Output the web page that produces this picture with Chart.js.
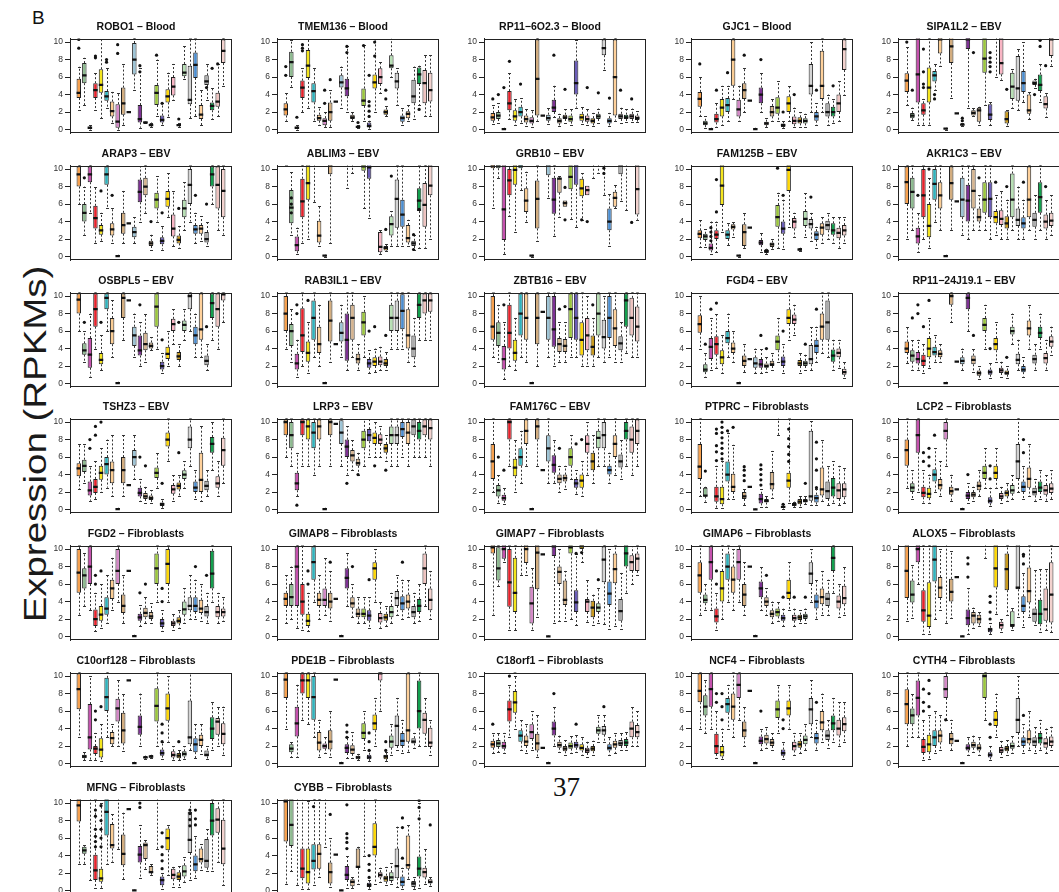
<!DOCTYPE html>
<html>
<head>
<meta charset="utf-8">
<script src="https://cdn.jsdelivr.net/npm/chart.js@4.4.1/dist/chart.umd.min.js"></script>
<style>
  body { margin: 0; background: #fff; width: 1059px; height: 892px; overflow: hidden; position: relative;
         font-family: "Liberation Sans", Arial, sans-serif; }
  .panel { position: absolute; }
  #ylab { position: absolute; left: 36px; top: 444px; transform: translate(-50%, -50%) rotate(-90deg) scaleX(1.24);
          font-size: 31px; white-space: nowrap; color: #1a1a1a; }
  #tag { position: absolute; left: 32px; top: 7px; font-size: 19px; color: #111; }
  #page { position: absolute; left: 553px; top: 772px; font-family: "Liberation Serif", serif; font-size: 27px; color: #111; }
</style>
</head>
<body>
<div id="tag">B</div>
<div id="ylab">Expression (RPKMs)</div>
<div id="page">37</div>
<script>
// 27 tissues, same order in every panel
const tissueColors = ['#F7A14F','#8DBB8F','#C552AE','#E8202A','#F5E61E','#2EB4BE','#FBCD94','#D486C6','#D3AD7F',
  '#C9A57A','#9CC4D6','#7E3294','#D6B48E','#D7B892','#9BC83A','#6B5DB8','#FFD700','#F9B5C4','#C99A1F',
  '#B6E0B3','#D4D4D4','#4A8ED2','#FFD19B','#AAAAAA','#13A04E','#EFC2BF','#F3D2CE'];
const yTicks = [0, 2, 4, 6, 8, 10];

// box stats per tissue: [lower whisker, Q1, median, Q3, upper whisker]; outliers: [tissue, value]
const robo1 = [[2.2,3.6,4.2,5.8,7.2],[2.8,5.3,6.2,7.6,8.2],[0,0.1,0.2,0.3,0.5],[2.2,3.6,4.5,5.3,6.5],[1.3,4.2,5.1,6.9,10.3],
  [2.5,3.3,3.8,4.4,7],[0.7,1.5,2.1,3.2,4.3],[0,0.2,0.9,2.9,4.2],[0.5,1.7,3,4.8,7.5],[2,2,2,2,2],[4.5,6.3,8,9.9,10.5],
  [0.2,0.8,1.2,2.8,7],[0.7,0.75,0.8,0.85,0.9],[0.3,0.4,0.5,0.7,0.8],[1.5,2.8,4.2,5.1,8],[0.5,0.8,1.1,1.6,3],[1.4,3.1,3.8,4.6,6.5],
  [3.4,3.9,4.9,6,7.5],[0.3,0.4,0.5,0.6,0.7],[5.8,6.1,6.5,7.5,9.5],[1.3,2.9,3.4,7.3,10.5],[1.5,5.9,7.4,8.8,10.5],[0.5,1.2,1.7,2.8,4.5],
  [3.4,5.1,5.5,6.2,7.5],[1.2,2.2,2.7,3.1,4.8],[1.5,2.6,3.2,4.2,7.5],[5,7.6,9,10.3,10.5]];
const robo1Out = [[1,9.3],[1,10.3],[4,8.2],[4,8.4],[6,7.7],[6,8],[8,8.7],[8,9.7],[12,7.3],[12,6.6],[15,8.5],[16,3],[19,1.2],[25,7],[24,4.8],[26,7.5]];

const tmem136 = [[1,1.6,2.3,3,4.2],[4.9,6,7.7,8.9,10.2],[0,0.1,0.2,0.3,0.5],[2,3.6,4.8,5.6,7],[2.5,5.9,7.3,9.1,10.4],
  [1,3.1,4.4,5.3,7],[0.5,1,1.3,1.7,2.6],[0.3,0.5,1,1.3,2],[0.3,1,2,3.1,4.5],[3.2,3.2,3.2,3.2,3.2],[2.5,4.8,5.4,6.2,7.2],
  [2,3.8,4.7,5.8,9.6],[1,1.2,1.4,1.7,2],[0.2,0.3,0.3,0.4,0.5],[1,2.7,3.3,4.7,9.7],[0.1,0.3,0.4,0.8,1],[2,4.7,5.4,6.3,10.3],
  [4.2,5.2,6,7,7.7],[1.5,1.7,2,2.3,2.7],[6,7,7.3,8.5,10.4],[2.8,4.7,5.5,6.5,7],[0.5,0.9,1.3,1.6,2.5],[1,1.3,1.8,2.1,2.8],
  [1.2,3,3.8,5.7,7.2],[2.8,5.2,6.3,7.1,7.3],[1.5,3,5.3,6.8,8.5],[1.5,3.2,4.5,6.5,8.5]];
const tmem136Out = [[1,6.2],[1,7.2],[3,1.4],[4,9],[4,9.3],[4,9.7],[8,3],[8,4.5],[9,5.7],[12,8.8],[12,9.5],[14,0.8],[15,9.6],
  [16,1.5],[16,2.1],[16,2.7],[16,3.2],[16,6.2],[17,8.4],[17,10],[19,3.5],[19,4.5],[25,2.3]];

const rp116o23 = [[0.6,1,1.4,1.9,2.8],[0.8,1.2,1.6,2,3],[0,0,0.05,0.1,0.2],[1.2,2.2,3,4.4,6.5],[0.5,1,1.5,2.2,3.5],
  [0.8,1.5,2,2.6,3.6],[0.4,0.8,1.2,1.6,2.4],[0.3,0.7,1,1.4,2.2],[1,1.6,5.8,10.3,10.5],[1.6,1.6,1.6,1.6,1.6],[0.6,1,1.3,1.7,2.5],
  [1.4,2,2.5,3.4,5],[0.4,0.7,1,1.3,1.8],[0.8,1.2,1.4,1.7,2.3],[0.5,0.9,1.2,1.6,2.3],[2.5,4,5.3,7.9,10.2],[0.6,1,1.4,1.8,2.6],
  [0.5,0.9,1.2,1.6,2.4],[0.4,0.7,1,1.3,1.9],[0.8,1.2,1.5,1.8,2.4],[6.8,8.5,9.3,10.3,10.5],[0.4,0.7,1,1.3,1.9],[1,1.6,6,10.3,10.5],
  [0.8,1.2,1.5,1.8,2.5],[0.9,1.2,1.4,1.7,2.3],[0.9,1.2,1.5,1.8,2.4],[0.9,1.1,1.3,1.6,2.1]];
const rp116o23Out = [[1,3.5],[2,4],[3,4.8],[4,7.8],[6,5.2],[12,8.5],[14,4.6],[18,4.8],[20,4.2],[22,3.6],[24,4.5],[26,3.5]];

const gjc1 = [[1.5,2.6,3.5,4.3,6],[0.2,0.5,0.7,1,1.5],[0,0,0.05,0.1,0.2],[0.3,0.8,1.2,1.8,3],[0.5,1.5,2.5,3.5,5],
  [1,2,2.8,3.6,5],[3.5,5,8,10.3,10.5],[1,1.5,2.3,3.4,5],[2,3.5,4.5,5.3,7],[3.3,3.3,3.3,3.3,3.3],[0,0,0.05,0.1,0.2],
  [2,3,4,4.8,6.5],[0.3,0.5,0.7,0.9,1.3],[1,1.5,2,2.7,3.5],[1,1.8,2.5,3.7,5.5],[0.2,0.3,0.5,0.7,1],[1,2,3,3.8,5],
  [0.3,0.6,1,1.5,2.5],[0.3,0.7,1,1.4,2],[0.3,0.7,1,1.3,1.8],[2,4,5,7.5,10],[0.5,1,1.5,2,3],[2,3.5,5,9,10.5],
  [0.5,1.5,2,3,4],[0.8,1.5,2,2.6,3.5],[1,2,3,4,5.5],[4,6.8,9.2,10.3,10.5]];
const gjc1Out = [[1,7.5],[4,4.5],[6,6.5],[9,8.5],[12,8],[16,2],[18,4],[22,4.5],[25,5]];

const sipa1l2 = [[2.8,4.3,5.6,6.45,9.45],[1.1,1.3,1.6,1.9,2.5],[0.5,3.1,6.3,10.5,11],[0.5,1.7,2.2,3,3.5],[0.5,3.1,4.8,7.1,10.5],
  [4.5,5.5,6.2,6.7,7.5],[7.3,8.7,10.3,10.6,11],[0,0.05,0.1,0.15,0.2],[3.6,7.6,9.5,10.6,11],[1.85,1.85,1.85,1.85,1.85],
  [0.4,0.5,0.55,0.6,0.7],[2.5,9.2,10.3,10.6,11],[1.5,1.6,1.9,2.2,2.5],[0.5,0.9,2.2,2.5,2.6],[2.8,6.5,8.1,10.5,11],
  [0.5,1.1,1.7,2.9,3.2],[6,10.5,10.8,11,11.5],[5.7,6.3,7.6,10.5,11],[0.4,0.7,1.2,2.1,2.2],[2.5,3.5,4.9,6.5,6.9],
  [2.2,3.3,4.7,8.4,9.2],[3.1,4.3,5.3,6.7,10],[1.2,1.8,2.2,4,4.3],[4.8,5.1,5.3,5.6,5.8],[3.1,4.4,5.1,6.3,7.5],
  [1.4,2.4,2.9,3.8,4.2],[7.3,8.4,10.3,10.6,11]];
const sipa1l2Out = [[1,10],[2,4.5],[4,4.8],[4,5.2],[4,6.6],[4,9.2],[6,3.5],[6,4],[11,1],[11,1.3],[13,8.8],[16,6.6],[16,7.2],
  [16,7.7],[16,8.2],[16,8.8],[19,4.6],[24,4],[25,9.5],[25,10.2],[26,7.3]];

const arap3 = [[6,8,9.4,10.3,10.5],[2.5,4,5,6,8],[5,8.5,9.4,10.3,10.5],[1.5,3.2,4.4,5.8,8],[1.8,2.5,3,3.6,5],
  [5.5,8.2,9.4,10.3,10.5],[1.5,2.4,3.1,3.8,5.5],[0,0,0.05,0.1,0.2],[1.5,2.6,3.6,5,7.5],[3.8,3.8,3.8,3.8,3.8],[1.5,2.2,2.8,3.4,4.5],
  [4,6.2,7.4,8.8,10.3],[5,7,8,9,10.5],[0.8,1.2,1.5,1.8,2.5],[4,5.5,6.5,7.3,9.2],[0.8,1.4,1.8,2.2,3.5],[4.5,5.7,6.6,7.5,9.5],
  [1.2,2.3,3.2,4.8,7.5],[1,1.5,1.9,2.4,3.5],[3,4.5,5.5,6.5,8.5],[4,6,8.2,10,10.5],[1.5,2.6,3.1,3.6,5],[1.8,2.6,3.2,3.6,4.6],
  [1.2,1.6,2,2.8,4],[6,8,9.4,10.3,10.5],[3,5.5,8.2,10.3,10.5],[2.5,4.5,7.5,10,10.5]];
const arap3Out = [[2,9],[5,7.5],[7,7],[14,4],[16,5],[19,5.5],[22,7],[24,6]];

const ablim3 = [[10.5,10.6,11,12,13],[2.5,3.8,5.6,7.6,9.7],[0.3,0.6,1.3,2.3,3.3],[1.6,4.5,6.3,8.9,10.5],[2,6.5,8.4,10.5,11],
  [6.2,10.6,11,12,13],[1.2,1.6,2.4,4.1,5.8],[0,0.05,0.1,0.15,0.2],[1.5,9.4,10.5,11,12],[11,11,11,11,11],[10.6,10.7,11,12,13],
  [7.8,10.6,11,12,13],[9.5,10.6,11,12,13],[10.6,10.7,11,12,13],[5.5,9.8,10.3,10.6,11],[4.4,8.9,10.2,10.6,11],[10.6,10.7,11,12,13],
  [0.3,0.5,1.1,2.8,3],[0.6,0.7,1,1.2,1.4],[1.2,2.4,3.7,4.6,5.2],[1.2,3.3,6.6,8.8,10.5],[1.2,3.4,4.8,6.5,10.5],[1.2,1.6,2.1,3.6,4.2],
  [0.8,1.2,1.5,1.8,2.5],[1,5.2,6.4,7.8,10.5],[1,3.4,5.9,8.4,10.5],[2,7,8.1,10.5,11]];
const ablim3Out = [[2,6.7],[2,6],[2,5],[19,3.1],[20,9.2],[24,2.5],[25,5.4],[24,0.8]];

const grb10 = [[5.6,10.1,10.4,10.6,11],[9,10.1,10.4,10.6,11],[0.3,1.9,5.4,10.5,11],[4.6,7,8.7,10,10.3],[2.8,8.2,9.9,10.5,11],
  [7.6,10.1,10.4,10.6,11],[4,5.1,6.4,7.8,9.7],[0,0.05,0.1,0.15,0.2],[1.8,3.2,6.6,8.7,10.5],[11,11,11,11,11],[6.7,9.3,10.5,11,12],
  [2.4,4.9,6.5,9,10.5],[4.5,7.3,8.9,9,9.2],[5.7,5.7,6.1,6.4,6.4],[4.3,7.7,9.1,10.5,11],[3.4,8.2,10.5,11,12],[4.2,6.9,7.8,8.9,9.5],
  [7,7,7.6,8.1,8.1],[9,10.5,11,12,13],[9.5,10.5,11,12,13],[7,10.5,11,12,13],[1.2,3,4,5.5,7.2],[5.5,5.7,6.7,7.4,8.2],
  [6.3,9.4,10.5,11,12],[5.3,10.5,11,12,13],[10.6,10.7,11,12,13],[4.2,4.8,7.7,10.5,11]];
const grb10Out = [[14,4.2],[14,7.9],[17,4.2],[18,4],[21,10.1],[21,9.5],[26,3.9]];

const fam125b = [[1.1,2.1,2.6,3,4.2],[1.1,1.9,2.3,2.6,3.1],[0.3,0.7,1,1.5,4],[0.5,2,2.5,3,4],[2.8,5.9,8.1,10.5,11],
  [1.3,2,2.5,3,3.8],[2.2,3.1,3.4,3.7,3.9],[0,0.05,0.1,0.15,0.2],[1,1.2,2.8,3.7,5],[3.3,3.3,3.3,3.3,3.3],[11,11,11,11,11],
  [0.5,1.3,1.6,1.9,2.7],[0.3,0.4,0.6,0.8,0.9],[0.9,1.1,1.4,1.6,2],[1,3.4,4.5,5.9,7.3],[0.9,2.6,3.2,4,6.5],[3.4,7.5,9.9,10.5,11],
  [2.2,3.2,4,4.4,5],[0.6,0.7,0.8,0.9,1],[2.2,3.5,4.3,5.2,7.3],[1.8,3.2,3.7,4.3,5],[1,1.9,2.5,2.9,3.4],[1.5,2.5,3.3,3.8,4.5],
  [2,3,3.6,4.1,5],[1.5,2.5,3,3.8,4.5],[1,2.1,2.7,3.3,4.5],[1.5,2.4,3,3.6,4.5]];
const fam125bOut = [[3,1.8],[3,2.3],[3,2.8],[3,3.3],[4,5.1],[4,8.8],[15,10.1],[16,7],[21,6.8]];

const akr1c3 = [[2,6,8.5,10.3,10.5],[3,5.5,7.4,9,10.5],[0.5,1.5,2.3,3.3,5],[2,4.5,7,10,10.5],[1,2.2,3.5,6,9],
  [4,6.5,8.3,10,10.5],[3,5.5,7,8.5,10.5],[0,0,0.05,0.1,0.2],[3,6.5,8.4,10.3,10.5],[6.3,6.3,6.3,6.3,6.3],[2.5,4.5,6.5,9,10.5],
  [2,4,6.4,8.2,10.5],[3,5.5,7.5,10,10.5],[3,4,4.5,5.5,7],[3,5,6.5,8.5,10.5],[2,4.5,6.6,8.5,10.5],[2.5,3.8,4.5,5.2,7],
  [2,3.6,4.3,5.3,7.5],[2,3.2,3.8,4.6,6.5],[3,4.5,6.5,9.5,10.5],[2,3.5,4.2,5.5,8],[2,3.2,3.8,4.5,6.5],[3,4.5,6.5,10.3,10.5],
  [2,3.4,4.2,5,7],[3,5,6.8,8.5,10.5],[2,3.2,4,4.8,6.5],[2.5,3.5,4.1,5,7]];
const akr1c3Out = [[3,7],[5,10],[14,9],[17,8.5],[19,8],[22,8.5],[26,8]];

const osbpl5 = [[6,8,9.6,10.3,10.5],[2.5,3.3,3.8,4.6,6],[0.8,1.8,3.3,5.2,8],[4,6.5,8.5,10.3,10.5],[1.5,2.2,2.7,3.5,5.5],
  [6,8.5,9.8,10.3,10.5],[3,4.5,6,7.5,9.5],[0,0,0.05,0.1,0.2],[5,7.5,9.8,10.3,10.5],[9.5,9.5,9.5,9.5,9.5],[3,4.3,5.5,6.5,8],
  [2,3.2,3.8,5.5,7],[2.5,3.8,4.5,5.8,8],[3.8,4,4.3,4.7,5.3],[4,6.5,8.8,10.3,10.5],[1.2,1.6,2,2.5,3.5],[2,2.8,3.4,4.2,6],
  [4.5,6,6.8,7.4,8.5],[2,2.7,3.1,3.6,4.5],[5,6,6.7,7.2,8.5],[6,8.5,10,10.3,10.5],[3,4.5,5.5,6.5,8],[3,5,6.2,10.3,10.5],
  [1.5,2.1,2.6,3.2,4.5],[5,7.5,9.2,10.3,10.5],[4,6.5,8.5,10.3,10.5],[7,9.5,10.2,10.4,10.5]];
const osbpl5Out = [[2,7],[5,7],[12,9],[16,5],[19,7],[24,6.5]];

const rab3il1 = [[4,6,8,10,10.5],[2.5,4.3,6,6.8,8.5],[0.8,1.6,2.3,3.4,5],[2,3.6,5.5,8.6,10.5],[1.2,2.5,3.5,4.8,7],
  [3,5,7.5,9.5,10.5],[2,3.5,4.5,6.5,9],[0,0,0.05,0.1,0.2],[2.5,4.8,7.2,9.5,10.5],[4.5,4.5,4.5,4.5,4.5],[3,4.8,5.8,7,9],
  [1.5,2.6,5,8,10.5],[3,5,7.5,9,10.5],[1.5,2.3,2.8,3.4,4.5],[3,5.5,7,8.2,10],[1.2,1.8,2.3,2.8,3.8],[1.3,2,2.5,3,4],
  [1.5,2.1,2.5,3.1,4.2],[1.5,2,2.3,2.8,3.6],[4,6,7.5,9,10.5],[4,6,7.5,9.5,10.5],[4,6.2,8.3,10.2,10.5],[2.5,4,5.5,8.5,10.5],
  [2,3,4,5.5,7.5],[5,7.5,9,10.3,10.5],[5,8,9.5,10.3,10.5],[5,8.2,9.5,10.3,10.5]];
const rab3il1Out = [[3,9],[3,8],[5,9.5],[16,6],[17,6.5],[19,5.5]];

const zbtb16 = [[3,5,6.5,10,10.5],[2.5,4.3,5.8,7,9],[0.5,1.6,2.8,4.3,7],[2,4,5.8,9,10.5],[1.5,2.6,3.5,5,7.5],
  [3,5.5,8,10.3,10.5],[2.5,5,7.5,10.3,10.5],[0,0,0.05,0.1,0.2],[2,4.5,7.5,10.3,10.5],[8.2,8.2,8.2,8.2,8.2],[3,5,7.5,10,10.5],
  [2,4.2,6.2,10,10.5],[2.5,3.6,4.5,5.2,7],[2.5,3.6,4.3,5.1,7],[3,5.2,8.5,10.3,10.5],[3,5,7.5,10.3,10.5],[2,3.2,5,7,10.5],
  [2,3.8,5.5,7.5,10],[2,3.2,4.2,5.5,7.5],[3,5.5,8,10.3,10.5],[2.5,4,5.3,7.3,10],[3,5.2,7.5,10,10.5],[2.5,4.3,6.3,8.5,10.5],
  [2.5,3.8,4.6,5.4,7],[3.5,6.5,9.5,10.3,10.5],[3,5.5,7.5,9.8,10.5],[3,4.8,6.5,8.8,10.5]];
const zbtb16Out = [[3,9],[13,8.5],[14,8.8],[19,9]];

const fgd4 = [[4,5.8,6.8,7.8,10],[0.8,1.3,1.6,2.2,3.5],[1.5,2.8,4.2,5.2,7.5],[1.8,3.3,4.5,5.4,8],[1.2,2.2,3,3.8,5.5],
  [3,4.6,5.2,6,8],[2.5,3.5,4,4.7,6],[0,0,0.05,0.1,0.2],[1.3,2,2.6,3.2,4.5],[2.8,2.8,2.8,2.8,2.8],[1.2,1.8,2.3,3,4],
  [1.2,1.8,2.2,2.8,4],[1.3,1.8,2,2.3,3],[1.5,2,2.2,2.6,3.5],[2.5,3.8,4.8,5.5,7.5],[1.2,2,2.5,3.1,4.5],[5,6.8,7.5,8.5,10.5],
  [5.5,6.8,7.3,7.9,9],[1.2,2,2.3,2.7,3.5],[1.5,2,2.3,2.6,3.3],[1.5,2.2,2.8,4.4,6.5],[2.5,3.5,4.3,5,6.5],[3.5,5,6.5,8,10.5],
  [3,5,7,9.5,10.5],[1.5,2.5,3.2,3.9,5],[1.8,3,3.5,4,5],[0.6,1,1.3,1.7,2.5]];
const fgd4Out = [[2,4.5],[3,8.5],[4,9.2],[12,5.5],[13,4],[16,6],[20,4.5],[22,8.5]];

const rp1124j191 = [[2.3,3.5,4,4.8,6.5],[1.5,2.5,3.2,3.8,5],[1.5,2.3,2.8,3.6,5],[1.2,2,2.6,3.3,4.5],[1.8,3,4,5.2,7.5],
  [2.5,3.2,3.6,4.2,5.5],[2.5,3,3.4,3.8,4.5],[0,0,0.05,0.1,0.2],[7,9,10,10.3,10.5],[2.5,2.5,2.5,2.5,2.5],[1.5,2.2,2.6,3,4],
  [6,8.5,9.8,10.3,10.5],[1.3,2.2,2.7,3.2,4],[0.5,0.9,1.2,1.5,2],[4,6,6.7,7.5,9],[0.6,1,1.3,1.6,2.3],[2.5,3.8,4.5,5.2,7],
  [0.8,1.2,1.5,1.8,2.5],[0.6,1,1.2,1.5,2],[4.5,5.6,6,6.5,8],[1.5,2.2,2.7,3.4,5],[0.8,1.3,1.6,2,3],[4,5.5,6.3,7.2,9],
  [1.5,2.3,2.8,3.3,4.5],[4,5.2,5.8,6.5,8],[1.5,2.3,2.9,3.5,5],[3.3,4.2,4.8,5.4,6.5]];
const rp1124j191Out = [[2,7.5],[3,8],[3,9],[4,6.5],[5,9.5],[13,5.5],[16,4],[19,3]];

const tshz3 = [[2.3,3.8,4.7,5.3,7.5],[3,4.3,5,5.7,7.5],[1,1.6,2.2,3.2,5],[1.2,1.9,2.6,3.5,5.5],[2,3.4,4.2,5,7],
  [2.5,4,5.2,6,8],[1.5,3,4.5,5.5,8.5],[0,0,0.05,0.1,0.2],[1.5,3,4.5,6,8.5],[2.8,2.8,2.8,2.8,2.8],[3.5,5,6,6.8,8.5],
  [1,1.5,1.9,2.5,3.5],[0.8,1.2,1.5,1.9,2.6],[0.8,1.1,1.3,1.6,2.2],[2.5,3.6,4.2,4.8,6.5],[0.2,0.4,0.6,0.8,1.2],[5.5,7.2,8,8.8,10.5],
  [1,1.8,2.3,2.8,4],[1.5,2.3,2.7,3.1,4],[2.5,3.5,4,4.5,5.5],[5,7,8,9.5,10.5],[1.2,2,2.5,3.2,4.5],[1,2,3.4,6.5,9.5],
  [1.5,2.2,2.7,3.3,4.5],[4.5,6.5,7.5,8.3,10],[1.5,2.5,3,3.8,5.5],[3,5,6.8,8.2,10.5]];
const tshz3Out = [[3,7],[3,8],[4,8.5],[4,9.5],[5,10],[12,6],[13,5],[16,3],[19,6.5]];

const lrp3 = [[6,8.5,10,10.3,10.5],[5,7,8.5,10,10.5],[1.5,2.2,3,4.2,6.5],[5,8.5,10,10.3,10.5],[5,8,9.5,10.3,10.5],
  [4,7,8.8,10,10.5],[5,8,9.5,10.3,10.5],[0,0,0.05,0.1,0.2],[5,8.5,10,10.3,10.5],[9.8,9.8,9.8,9.8,9.8],[5,7.5,8.8,10.2,10.5],
  [4,6,7.2,8,9.5],[4.5,5.5,6.2,6.8,8],[4,5,5.3,5.8,6.5],[5,7,8,9,10.3],[6,7.8,8.5,9.2,10.3],[6,7.5,8.2,8.8,10],
  [6,7.5,8,8.6,9.5],[5.5,6.5,7,7.5,8.5],[5,7.5,8.5,9.5,10.5],[5,7.5,8.5,9.5,10.5],[6,8.3,9.2,10,10.5],[5,7.5,8.8,10,10.5],
  [6,8.5,9.5,10.3,10.5],[6,8,9,10,10.5],[6,8.5,9.5,10.3,10.5],[5,8,9.3,10.3,10.5]];
const lrp3Out = [[3,0.5],[12,3],[14,4],[17,5],[19,4.5]];

const fam176c = [[2,3.5,5.5,7.5,10.5],[0.8,1.5,2.2,2.8,4],[0.6,1,1.3,1.7,2.5],[5,8,10,10.3,10.5],[2,3.8,4.8,5.8,8],
  [3,5,6,7,9],[5,7.5,9,10.3,10.5],[0,0,0.05,0.1,0.2],[5,8,9.5,10.3,10.5],[4.5,4.5,4.5,4.5,4.5],[3,5.5,7,8.5,10.5],
  [3,4.2,5.1,6.2,8],[2,3,3.5,4,5],[2.3,3.2,3.6,4,5],[3.5,5,6,7,8.5],[1.8,2.5,3,3.5,4.5],[1.5,2.5,3.3,4,5.5],
  [4,6.5,7.5,8.5,10],[3,4.5,5.5,6.5,8.5],[5,7,8.2,9,10.5],[5,7,8.5,10,10.5],[3,4,4.5,5,6.5],[4,6,7.5,8.5,10.5],
  [3.5,4.8,5.5,6.3,8],[5,8,9,10,10.5],[4,6.5,8,9.5,10.5],[5,7.5,9,10.3,10.5]];
const fam176cOut = [[2,6],[3,4.5],[13,7],[16,7.5],[17,8]];

const ptprc = [[1.5,3.5,4.9,7.5,10.5],[0.9,1.5,1.6,2.5,2.6],[10.6,10.7,11,12,13],[0.2,0.9,1.5,2.6,5],[0.2,0.6,1.2,2.6,5.6],
  [1.2,3.2,4,5.5,8.8],[1.2,2,2.6,4.1,7.4],[10.6,10.7,11,12,13],[0.5,1.2,1.5,2,2.3],[2.6,2.6,2.6,2.6,2.6],[0,0,0.02,0.05,0.1],
  [0.3,0.7,1.2,1.8,2.3],[0.3,0.8,1,1.2,1.5],[1.3,2.3,2.9,4.3,6.7],[8.5,10.6,11,12,13],[0.1,0.2,0.3,0.4,0.6],[0.8,2.5,3.3,4.2,10.5],
  [0.3,0.4,0.6,0.7,0.9],[0.3,0.6,0.9,1.2,1.5],[0.6,0.8,1,1.2,1.5],[0.5,1,1.5,9,10.1],[0.5,0.8,1.3,1.7,2.3],[1,1.6,2.3,4.8,8],
  [0.5,1.2,2.1,3.2,5],[0.8,1.5,2.5,3.6,5.5],[0.5,1.2,2.2,3,5],[0.7,1.4,2.3,3,4.8]];
const ptprcOut = [[2,4.4],[4,5.6],[4,6.6],[4,7.3],[4,8.7],[4,9.2],[5,5.8],[5,6.4],[5,7],[5,7.6],[5,8.2],[5,8.8],[5,9.4],[5,10],
  [6,9],[7,9.4],[9,3.3],[9,3.9],[9,4.5],[9,4.9],[12,2.8],[12,3.4],[12,4],[12,4.6],[12,5.1],[16,0.6],[17,5.5],[17,6.3],
  [17,7.2],[17,8.1],[17,9.2],[20,3],[22,2.5],[22,4.5],[22,5.8],[22,7.7]];

const lcp2 = [[2.5,5,6.8,8,10.5],[1.2,2,2.5,3,4.5],[2,6.5,8.5,10.3,10.5],[0.8,1.4,1.9,2.6,4.5],[0.8,1.3,1.8,2.5,4],
  [2,3.2,4,4.6,7],[1.5,2.3,2.8,3.5,5.5],[5,8,9,10,10.5],[1,1.7,2.1,2.6,4],[2.3,2.3,2.3,2.3,2.3],[0,0,0.05,0.1,0.2],
  [0.8,1.2,1.6,2,3],[1,1.4,1.7,2,2.6],[1.5,2.2,2.7,3.2,4.5],[2.5,3.5,4.2,5,7],[0.4,0.7,1,1.4,2.5],[2.5,3.5,4.2,5,7],
  [0.8,1.2,1.5,1.9,2.6],[1,1.5,1.9,2.2,3],[1.2,1.8,2.2,2.8,4],[2,3.5,5.5,7.5,10.5],[1.2,2,2.6,3.2,5],[1.5,2.5,3.5,4.8,7.5],
  [1,1.6,2,2.5,3.5],[1.2,2,2.5,3.2,4.5],[1,1.7,2.2,2.8,4],[1.2,1.9,2.4,3,4.5]];
const lcp2Out = [[4,5.5],[4,6.5],[5,5],[5,6],[5,7],[6,8.5],[12,4],[16,3.5],[16,5],[22,6.5],[22,8]];

const fgd2 = [[2.5,5,7.3,10,10.5],[3.5,5.5,7,7.8,9.5],[3,6,8,10.3,10.5],[0.6,1.2,2,3.1,5],[1,1.8,2.5,3.5,6],
  [1.5,2.5,3.2,4.5,7],[3,4.3,5.5,6.5,9],[4,6,7.5,10,10.5],[1.5,2.7,3.5,4.8,7],[7.5,7.5,7.5,7.5,7.5],[0,0,0.05,0.1,0.2],
  [1.2,1.8,2.2,2.6,3.6],[1.5,2.2,2.7,3.3,4.5],[1.5,2,2.3,2.8,3.8],[4,6,7.8,9.5,10.5],[0.6,1.1,1.5,2,3],[4,6,8.3,10,10.5],
  [0.8,1.2,1.5,1.8,2.6],[1,1.5,1.8,2.2,3],[1.5,2.5,3.1,4,5.5],[2,3,3.5,4.5,7],[2,2.8,3.5,4.5,6.5],[1.8,2.7,3.2,4.2,6],
  [1.5,2.3,2.8,3.5,5],[4,5.5,7.2,9.8,10.5],[1.5,2.2,2.8,3.5,5],[1.8,2.3,2.8,3.2,4.5]];
const fgd2Out = [[4,6],[4,7],[5,7.5],[12,5],[13,6],[16,4],[16,5.5],[22,8],[24,7]];

const gimap8 = [[1.5,3.5,4.3,5,7],[2,3.5,4.5,6,8],[1,3.5,8,10.3,10.5],[0.8,2.5,4,6,10.5],[0.6,1.2,1.8,2.6,5],
  [4,6.5,8.5,10.3,10.5],[2,3.5,4.2,5,7],[2.5,3.5,4.2,5.5,9],[1.8,3.2,4,5,7.5],[4.3,4.3,4.3,4.3,4.3],[0,0,0.05,0.1,0.2],
  [3.5,5.5,6.7,7.8,9.5],[2.2,3.3,3.8,4.5,6],[1.5,2.2,2.6,3.2,4.5],[1.5,2.2,2.6,3.2,4.5],[1,1.8,2.4,3,4.5],[4,6.5,7.8,8.5,10],
  [1,1.6,2.1,2.7,4],[1.2,1.8,2.2,2.6,3.5],[1.5,2.2,2.8,3.5,5],[2.5,3.5,4.4,5.2,7],[2,3,3.8,4.6,6.5],[2.2,3.2,4,4.8,6.5],
  [1.5,2.2,2.8,3.5,5],[1.8,2.8,3.5,4.3,6],[3.5,6,7.8,9.5,10.5],[2,3,4.2,5.5,7.5]];
const gimap8Out = [[5,6],[5,7.5],[9,8.5],[13,8],[16,6.5],[22,8.5]];

const gimap7 = [[2.5,9.5,10.2,10.5,11],[5.8,6.4,7.8,10.2,10.5],[8.5,8.9,10,10.5,11],[0.7,3.4,6.2,10,10.5],[0.7,2.8,5,9,10.5],
  [7,10.5,11,12,13],[7,8.4,10,10.5,11],[0.7,1.5,3.8,5.7,7.8],[2.2,5.4,9.6,10.5,11],[9.4,9.4,9.4,9.4,9.4],[0,0,0.02,0.05,0.1],
  [1.5,9.2,10.3,10.5,11],[1.8,6,7.4,8,10],[1.8,3.6,4.2,6.4,7.5],[2,9.5,10.2,10.5,11],[1.3,2.8,3.9,5.3,9.4],[8.5,10,10.3,10.5,11],
  [1.7,2.8,4,4.3,6.5],[1.3,2.2,3.3,4.1,4.8],[1.6,2.8,3.3,3.8,5.5],[1.4,6.2,8.8,10.3,10.5],[0.9,3.6,4.9,6.3,10],[1.2,6.1,7.7,9.5,10.5],
  [0.9,1.8,2.9,4.3,7.3],[5,8,9.5,10.5,11],[6,7.5,8.5,9.3,10.3],[7,7.5,8.9,9.5,10.5]];
const gimap7Out = [[16,9.5],[20,6.5],[17,9.6]];

const gimap6 = [[2.5,5,7,8.5,10.5],[3,3.8,4.2,4.8,6],[3,6.5,8.5,10.3,10.5],[0.8,1.6,2.3,3.2,5],[2,4,5.5,7.5,10.5],
  [4,6.5,8,9.5,10.5],[3,5,6.5,8,10],[4,6.5,8.5,10,10.5],[2.5,3.5,4.8,6,8.5],[8,8,8,8,8],[0,0,0.05,0.1,0.2],
  [3,4.5,5.5,6.3,8],[2.5,3.5,4,4.5,5.5],[1.5,2.2,2.6,3,4],[1.8,2.3,2.8,3.2,4],[1.2,1.8,2.1,2.5,3.2],[3,4.3,5,6.5,8.5],
  [1.2,1.8,2.1,2.5,3.2],[1.5,1.9,2.2,2.5,3],[1.5,2,2.3,2.6,3.2],[4,6,7.2,8.5,10],[2,3.2,4,4.8,6.5],[2.5,3.7,4.5,5.5,7.5],
  [2.5,3.5,4.3,5,6.5],[5,7.5,9,10.3,10.5],[2.2,3.2,4,4.7,6],[2.5,3.7,4.4,5.8,8]];
const gimap6Out = [[4,6],[4,7.5],[13,7],[16,4.5],[18,4.5],[20,4.5]];

const alox5 = [[1.8,4.4,7.5,10.5,11],[2.1,3.9,4.8,6.4,8.2],[6,8.5,10,10.5,11],[0.3,1.7,3,5.3,10.5],[0.3,1.1,2.4,6.2,10.5],
  [2,6.3,8.8,10.5,11],[3,4.4,5.6,6.8,10],[1.5,10.5,11,12,13],[2.1,4,5.1,6.6,9.8],[6.8,6.8,6.8,6.8,6.8],[0,0,0.02,0.05,0.1],
  [0.3,1.3,2.1,3.1,5.5],[1,1.5,2.4,2.8,3.3],[1.2,1.5,2,2.5,2.8],[9,10.5,11,12,13],[0.3,0.5,0.8,1,1.5],[2.6,5.6,7.8,10.5,11],
  [0.5,0.9,1.3,1.7,2],[2.5,5.3,7.7,9.5,10.5],[0.8,1.1,1.3,2.9,3.3],[2.2,5.4,5.6,10.5,11],[1.1,2.8,3.5,4.6,7.3],[2.2,3.9,5.2,7.9,10.5],
  [1.3,1.7,2.6,3.2,7.6],[0.5,1.4,2.6,4.2,7.7],[0.7,1.8,3.1,5.5,7.7],[0.5,1.6,4.8,8.5,10.5]];
const alox5Out = [[12,6.8],[12,8.3],[12,9],[16,2],[16,2.8],[16,3.9],[16,4.6],[22,8.3],[22,9.2],[22,9.4]];

const c10orf128 = [[3,6.2,8.5,10.3,10.5],[0.4,0.6,0.8,1,1.3],[0.4,1.6,3,6.8,10],[0.4,1.1,1.7,2,3.5],[0.3,0.7,1.6,2.9,4.5],
  [3,6,7.6,9.8,10.5],[2,2.2,2.9,3.6,4.5],[2,4.8,6.3,7.4,9.5],[1.4,2.3,3.8,5.8,8],[9.5,9.5,9.5,9.5,9.5],[0,0,0.05,0.1,0.2],
  [2,3.3,4.2,5.5,8],[0.5,0.6,0.7,0.8,0.9],[0.6,0.7,0.8,0.9,1],[2,4.8,6.6,8.6,10.5],[0.5,0.9,1.2,1.6,2.5],[2.5,4.9,6.3,8,10],
  [0.4,0.7,1,1.4,2],[0.4,0.6,0.9,1.2,1.6],[0.5,0.8,1.1,1.4,2],[1.5,2.2,3,7.2,10.3],[0.6,1.3,2.2,2.9,4.5],[1.1,2,2.7,3.3,4.5],
  [0.5,0.8,1,1.5,2],[1.5,2.8,4,5.3,7],[2,3.3,4.8,5.2,6.5],[1,2.2,3.4,4.6,6.5]];
const c10orf128Out = [[4,5],[4,6],[5,6.5],[16,2.5],[16,3.5],[16,4.5],[19,2.5]];

const pde1b = [[4,7.5,9.6,10.4,10.5],[0.7,1.3,1.7,2.2,2.5],[0.7,3.1,4.6,6.5,9],[5,8,9.5,10.3,10.5],[4.5,7.5,9.5,10.3,10.5],
  [3,5,7.6,10,10.5],[0.8,1.5,2.4,3.6,5],[1.2,1.7,2,2.3,3],[0.8,1.6,2.5,3.8,6],[9.6,9.6,9.6,9.6,9.6],[0,0,0.05,0.1,0.2],
  [0.6,1.2,1.8,2.2,3],[0.6,1.1,1.6,2.1,3.6],[0.4,0.5,0.7,0.9,1.1],[1.6,2.8,3.5,4.6,6],[0.3,0.5,0.7,1,1.5],[2,3.8,4.6,5.6,7.5],
  [6,9.5,10.3,10.4,10.5],[0.3,0.5,0.8,1,1.3],[1,1.8,2.5,3.2,4.5],[1.5,2,4.3,5.5,7.5],[1.2,2,2.6,3.5,5],[1.3,2.5,3.8,10.3,10.5],
  [1.8,2.3,2.5,2.9,3.5],[2,4,6,9.5,10.5],[2,3.4,5,5.8,7.5],[1,1.9,2.4,4.1,5]];
const pde1bOut = [[12,3],[12,3.6],[12,4.4],[16,1.5],[16,2.5],[16,3.5],[19,1.5],[19,2.5]];

const c18orf1 = [[1.2,1.8,2.2,2.6,3.5],[1.3,1.9,2.3,2.7,3.5],[1.2,1.7,2,2.5,3.5],[3,4.8,6.2,7.2,9],[4,5.8,7,8.3,10],
  [1.5,2.5,3.2,3.8,5],[1.2,2,2.5,3.2,4.5],[1.5,2.8,3.6,4.5,6],[0.8,1.5,2.3,3.4,5.5],[1.8,1.8,1.8,1.8,1.8],[0,0,0.05,0.1,0.2],
  [2,3.2,4,4.8,6.5],[1.3,1.8,2.1,2.5,3.2],[1,1.4,1.7,2,2.7],[1.2,1.7,2,2.4,3.2],[1.3,1.8,2.1,2.5,3.3],[1,1.5,1.8,2.2,3],
  [0.8,1.2,1.5,1.8,2.5],[1,1.4,1.7,2,2.6],[2.5,3.4,3.8,4.2,5.5],[2.5,3.3,3.8,4.3,5.5],[1,1.5,1.8,2.2,3],[1.2,1.8,2.2,2.6,3.5],
  [1.5,2,2.3,2.7,3.5],[1.5,2,2.4,2.8,3.6],[2,3,4,4.8,6.5],[2,3,3.6,4.4,6]];
const c18orf1Out = [[1,4.5],[4,10],[5,10.5],[12,8],[16,4.5],[21,6.5]];

const ncf4 = [[4,7,8.3,10.3,10.5],[3.5,5.5,6.5,7.8,9.5],[4,6.5,8.5,10.3,10.5],[0.6,1.1,2,3.4,6],[0.5,0.8,1.3,2,4],
  [4,5.8,6.8,7.5,9],[3,5,6.5,8,10.5],[5,7.5,9,10.3,10.5],[2,3,3.8,4.8,6.5],[8.3,8.3,8.3,8.3,8.3],[0,0,0.05,0.1,0.2],
  [1.5,2.2,2.6,3.1,4],[1.8,2.3,2.8,3.3,4.2],[1.5,2,2.4,2.8,3.5],[3.5,5.2,6.2,7.2,9],[0.5,0.9,1.2,1.6,2.5],[4,5.5,6.3,7.2,9],
  [1,1.5,2,2.5,3.5],[1.2,1.8,2.2,2.6,3.5],[1.5,2.2,2.7,3.2,4.5],[3,4.5,6.2,7.5,9.5],[1.5,2.3,2.9,3.5,5],[2.5,3.8,4.7,6,8],
  [1.8,2.7,3.2,3.8,5],[2.5,3.8,4.6,5.5,7.5],[2,3.2,4,5,7],[2.5,3.7,4.5,5.3,7]];
const ncf4Out = [[4,7],[4,8],[5,5],[5,6.5],[5,8],[12,6],[16,4],[16,5],[22,7]];

const cyth4 = [[2,4.5,6.8,8.5,10.5],[3,4.5,5.5,6.3,8],[3,5.5,7.5,9.5,10.5],[0.4,1.2,1.9,2.8,5],[0.5,1.3,2.2,3.3,5.5],
  [1.2,2,3,3.8,6],[1.5,2.4,3.2,3.8,5.5],[5,7.5,8.5,10,10.5],[1.5,2.2,2.8,3.5,5],[2.6,2.6,2.6,2.6,2.6],[0,0,0.05,0.1,0.2],
  [1,1.5,1.8,2.2,3],[1.3,1.8,2.1,2.5,3.2],[1,1.5,1.8,2.2,3],[5,7.5,10,10.3,10.5],[0.4,0.7,1,1.3,2],[3,4.3,5,6,8],
  [0.8,1.2,1.5,1.9,2.6],[1,1.4,1.7,2,2.7],[1.2,1.7,2,2.4,3.2],[2,3.5,5,7.5,10],[1.2,2,2.5,3,4.5],[1.5,2.3,2.8,3.8,6],
  [1.2,2,2.5,3,4.2],[1.5,2.3,2.9,3.5,5],[1.2,1.8,2.3,2.9,4],[1.5,2,2.5,3.1,4.2]];
const cyth4Out = [[4,6],[4,7],[4,8.5],[5,6.5],[5,8],[5,9.5],[8,5],[16,3],[16,4.5],[22,5.5]];

const mfng = [[3,7.9,9.75,10.5,11],[3,4.2,4.6,5,5.2],[1.2,10.5,11,12,13],[0.3,1.2,2.3,4.1,10.5],[0.3,1,1.4,2.5,10],
  [3,6.3,9,10.5,11],[3.3,4.8,5.2,7.6,8.7],[4.7,10.5,11,12,13],[1.3,2.9,4.2,6.4,8.9],[9.3,9.3,9.3,9.3,9.3],[0,0,0.02,0.05,0.1],
  [1.4,3.2,4.1,5.1,7.5],[2.5,3.6,5.2,5.5,5.8],[1.8,2,2.1,2.8,3],[4.7,10.5,11,12,13],[0.2,0.6,1.2,1.6,2],[1.8,4.6,6,7.1,7.5],
  [0.4,1.3,1.8,2.5,2.7],[0.4,1.2,1.6,2.1,2.8],[1,1.6,2.2,2.9,3.8],[1.2,4.3,5.8,9,10.3],[1.4,2.2,3,4,6.2],[2.3,3.2,3.6,4.8,5.3],
  [2.2,2.6,3.4,5.9,7],[2.2,6.3,8,10,10.5],[3.3,6.6,8.1,9.4,10.3],[0.6,3,4.8,8.1,10.5]];
const mfngOut = [[4,5],[4,5.6],[4,6.2],[4,7],[4,8.5],[4,9.2],[5,5],[5,6],[5,7],[5,8],[5,9.7],[12,9.5],[12,10],[16,2.5],
  [16,3.4],[16,4.1],[16,5],[16,6.6],[21,7.4],[21,8.1],[21,8.8],[21,9.2],[22,7.5],[22,8.2],[22,9.2]];

const cybb = [[0.8,5.6,10.2,10.5,11],[2.2,5.1,7.5,10.5,11],[0.6,10.5,11,12,13],[0.2,1.4,2.5,4.8,10.4],[0.2,0.8,2.1,4.8,10.2],
  [0.6,2.4,3.4,5.3,10.5],[1.5,2.5,4.2,5.3,10.5],[5,10.5,11,12,13],[0.4,0.8,2.1,3.2,6],[4.1,4.1,4.1,4.1,4.1],[0,0,0.02,0.05,0.1],
  [0.3,1.2,1.8,2.8,4],[0.3,0.5,1,1.3,1.6],[0.7,2.6,2.7,4.8,5],[4,10.5,11,12,13],[0.2,0.4,0.6,0.9,1.2],[0.8,4,5,7.7,10.5],
  [1,1.5,1.8,2.1,2.6],[0.6,1,1.4,1.7,2.7],[0.8,1.1,1.5,2.1,3.1],[0.4,1.4,2.8,4.8,7.3],[0.2,0.5,1,1.6,2.6],[1.3,2.5,2.9,6.3,7.5],
  [0.2,0.4,0.8,1.1,1.5],[0.3,1.6,2.5,3.9,10],[0.8,1.5,2.1,2.6,4.7],[0.5,0.8,1,1.3,1.6]];
const cybbOut = [[6,9.6],[9,8.7],[12,4.8],[12,5.5],[12,6],[12,6.5],[12,9.8],[16,1.5],[16,2.3],[16,3],[16,4],[22,3.7],
  [22,7.2],[22,8.3],[25,8.2],[25,9.5],[25,10.3],[27,7.5]];

const panels = [
  ['ROBO1 \u2013 Blood', robo1, robo1Out], ['TMEM136 \u2013 Blood', tmem136, tmem136Out],
  ['RP11\u22126O2.3 \u2013 Blood', rp116o23, rp116o23Out], ['GJC1 \u2013 Blood', gjc1, gjc1Out],
  ['SIPA1L2 \u2013 EBV', sipa1l2, sipa1l2Out],
  ['ARAP3 \u2013 EBV', arap3, arap3Out], ['ABLIM3 \u2013 EBV', ablim3, ablim3Out], ['GRB10 \u2013 EBV', grb10, grb10Out],
  ['FAM125B \u2013 EBV', fam125b, fam125bOut], ['AKR1C3 \u2013 EBV', akr1c3, akr1c3Out],
  ['OSBPL5 \u2013 EBV', osbpl5, osbpl5Out], ['RAB3IL1 \u2013 EBV', rab3il1, rab3il1Out], ['ZBTB16 \u2013 EBV', zbtb16, zbtb16Out],
  ['FGD4 \u2013 EBV', fgd4, fgd4Out], ['RP11\u221224J19.1 \u2013 EBV', rp1124j191, rp1124j191Out],
  ['TSHZ3 \u2013 EBV', tshz3, tshz3Out], ['LRP3 \u2013 EBV', lrp3, lrp3Out], ['FAM176C \u2013 EBV', fam176c, fam176cOut],
  ['PTPRC \u2013 Fibroblasts', ptprc, ptprcOut], ['LCP2 \u2013 Fibroblasts', lcp2, lcp2Out],
  ['FGD2 \u2013 Fibroblasts', fgd2, fgd2Out], ['GIMAP8 \u2013 Fibroblasts', gimap8, gimap8Out],
  ['GIMAP7 \u2013 Fibroblasts', gimap7, gimap7Out], ['GIMAP6 \u2013 Fibroblasts', gimap6, gimap6Out],
  ['ALOX5 \u2013 Fibroblasts', alox5, alox5Out],
  ['C10orf128 \u2013 Fibroblasts', c10orf128, c10orf128Out], ['PDE1B \u2013 Fibroblasts', pde1b, pde1bOut],
  ['C18orf1 \u2013 Fibroblasts', c18orf1, c18orf1Out], ['NCF4 \u2013 Fibroblasts', ncf4, ncf4Out],
  ['CYTH4 \u2013 Fibroblasts', cyth4, cyth4Out],
  ['MFNG \u2013 Fibroblasts', mfng, mfngOut], ['CYBB \u2013 Fibroblasts', cybb, cybbOut]
];

// panel geometry (plot frame in page pixels)
const FRAME_W = 162, AXIS_W = 30, PAD_B = 8;
const CANVAS_W = AXIS_W + FRAME_W + AXIS_W, CANVAS_H = 124;
const colLeft = c => 70 + 207 * c;
const rowTop = r => 38.5 + 126.8 * r;
const FONT = 'Liberation Sans, Arial, sans-serif';

// dashed whiskers with staples under the boxes, frame on top
const whiskerPlugin = {
  id: 'whiskers',
  beforeDatasetsDraw(chart, args, opts) {
    const { ctx, chartArea: a, scales: { x, y } } = chart;
    ctx.save();
    ctx.beginPath();
    ctx.rect(a.left, a.top, a.width, a.height);
    ctx.clip();
    ctx.strokeStyle = '#333';
    ctx.lineWidth = 1;
    opts.stats.forEach((s, i) => {
      const [lo, q1, , q3, hi] = s;
      const px = Math.round(x.getPixelForValue(i + 1)) + 0.5;
      ctx.setLineDash([2, 2]);
      ctx.beginPath();
      if (hi > q3) { ctx.moveTo(px, y.getPixelForValue(q3)); ctx.lineTo(px, y.getPixelForValue(hi)); }
      if (lo < q1) { ctx.moveTo(px, y.getPixelForValue(q1)); ctx.lineTo(px, y.getPixelForValue(lo)); }
      ctx.stroke();
      ctx.setLineDash([]);
      ctx.beginPath();
      if (hi > q3) { const py = Math.round(y.getPixelForValue(hi)) + 0.5; ctx.moveTo(px - 1.5, py); ctx.lineTo(px + 1.5, py); }
      if (lo < q1) { const py = Math.round(y.getPixelForValue(lo)) + 0.5; ctx.moveTo(px - 1.5, py); ctx.lineTo(px + 1.5, py); }
      ctx.stroke();
    });
    ctx.restore();
  },
  afterDraw(chart) {
    const { ctx, chartArea: a } = chart;
    ctx.save();
    ctx.strokeStyle = '#222';
    ctx.lineWidth = 1;
    ctx.strokeRect(Math.round(a.left) + 0.5, Math.round(a.top) + 0.5, Math.round(a.width) - 1, Math.round(a.height) - 1);
    ctx.restore();
  }
};

panels.forEach(([title, stats, outliers], k) => {
  const col = k % 5, row = Math.floor(k / 5);
  const div = document.createElement('div');
  div.className = 'panel';
  const canvas = document.createElement('canvas');
  canvas.width = CANVAS_W;
  canvas.height = CANVAS_H;
  div.appendChild(canvas);
  document.body.appendChild(div);

  const chart = new Chart(canvas, {
    type: 'bar',
    data: {
      datasets: [
        {
          type: 'scatter', order: 0, clip: 0,
          data: outliers.map(([t, v]) => ({ x: t, y: v })),
          pointRadius: 1.6, pointBackgroundColor: '#111', pointBorderWidth: 0
        },
        {
          order: 1, grouped: false, clip: 0,
          data: stats.map((s, i) => ({ x: i + 1, y: [s[2] - 0.13, s[2] + 0.13] })),
          backgroundColor: '#111', borderWidth: 0,
          barPercentage: 0.8, categoryPercentage: 1
        },
        {
          order: 2, grouped: false, clip: 0,
          data: stats.map((s, i) => ({ x: i + 1, y: [s[1], s[3]] })),
          backgroundColor: tissueColors, borderColor: '#222', borderWidth: 1, borderSkipped: false,
          barPercentage: 0.8, categoryPercentage: 1
        }
      ]
    },
    options: {
      responsive: false,
      animation: false,
      devicePixelRatio: 1,
      layout: { padding: { left: 0, top: 0, right: AXIS_W, bottom: PAD_B } },
      scales: {
        x: { type: 'linear', min: -0.58, max: 28.58, offset: false, display: false },
        y: {
          min: -0.4, max: 10.4,
          afterBuildTicks: ax => { ax.ticks = yTicks.map(v => ({ value: v })); },
          afterFit: ax => { ax.width = AXIS_W; },
          border: { display: true, color: '#222', width: 1 },
          grid: { drawOnChartArea: false, drawTicks: true, tickLength: 5, color: '#222' },
          ticks: { font: { size: 8.5, family: FONT }, color: '#333', padding: 2, autoSkip: false }
        }
      },
      plugins: {
        legend: { display: false },
        tooltip: { enabled: false },
        title: {
          display: true, text: title, color: '#111',
          font: { size: 10.5, weight: 'bold', family: FONT },
          padding: { top: 4, bottom: 5 }
        },
        whiskers: { stats }
      }
    },
    plugins: [whiskerPlugin]
  });

  const a = chart.chartArea;
  div.style.left = (colLeft(col) - a.left) + 'px';
  div.style.top = (rowTop(row) - a.top) + 'px';
});
</script>
</body>
</html>
